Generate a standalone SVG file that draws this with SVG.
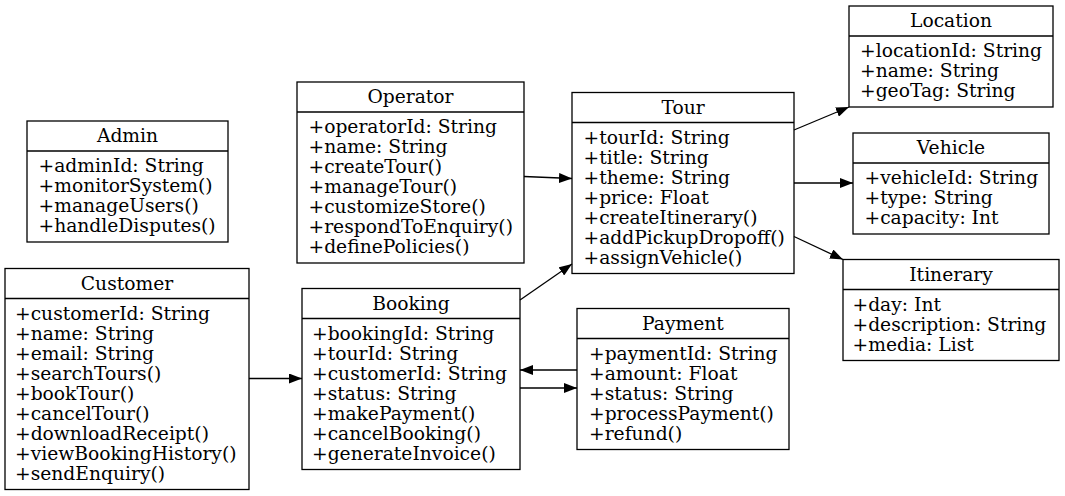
<svg xmlns="http://www.w3.org/2000/svg" width="1065" height="496" viewBox="0 0 1065 496">
<style>
.box{fill:#ffffff;stroke:#000000;stroke-width:1.3}
.div{stroke:#000000;stroke-width:1.3}
text{font-family:"DejaVu Serif",serif;font-size:18.7px;fill:#000000}
.t{text-anchor:middle}
.e{stroke:#000000;stroke-width:1.3;fill:none;marker-end:url(#arr)}
</style>
<defs>
<marker id="arr" markerUnits="userSpaceOnUse" markerWidth="14" markerHeight="10" refX="13" refY="5" orient="auto">
<path d="M0,0 L13,5 L0,10 Z" fill="#000000"/>
</marker>
</defs>
<rect width="1065" height="496" fill="#ffffff"/>

<g id="Admin">
<rect class="box" x="27" y="121" width="201" height="121"/>
<line class="div" x1="27" y1="151" x2="228" y2="151"/>
<text class="t" x="127.5" y="142">Admin</text>
<text x="38.5" y="172">+adminId: String</text>
<text x="38.5" y="192">+monitorSystem()</text>
<text x="38.5" y="212">+manageUsers()</text>
<text x="38.5" y="232">+handleDisputes()</text>
</g>

<g id="Customer">
<rect class="box" x="5" y="268.5" width="244" height="221"/>
<line class="div" x1="5" y1="298.5" x2="249" y2="298.5"/>
<text class="t" x="127" y="289.5">Customer</text>
<text x="15" y="319.5">+customerId: String</text>
<text x="15" y="339.5">+name: String</text>
<text x="15" y="359.5">+email: String</text>
<text x="15" y="379.5">+searchTours()</text>
<text x="15" y="399.5">+bookTour()</text>
<text x="15" y="419.5">+cancelTour()</text>
<text x="15" y="439.5">+downloadReceipt()</text>
<text x="15" y="459.5">+viewBookingHistory()</text>
<text x="15" y="479.5">+sendEnquiry()</text>
</g>

<g id="Operator">
<rect class="box" x="297" y="82" width="227" height="181"/>
<line class="div" x1="297" y1="112" x2="524" y2="112"/>
<text class="t" x="410.5" y="103">Operator</text>
<text x="308.5" y="133">+operatorId: String</text>
<text x="308.5" y="153">+name: String</text>
<text x="308.5" y="173">+createTour()</text>
<text x="308.5" y="193">+manageTour()</text>
<text x="308.5" y="213">+customizeStore()</text>
<text x="308.5" y="233">+respondToEnquiry()</text>
<text x="308.5" y="253">+definePolicies()</text>
</g>

<g id="Booking">
<rect class="box" x="302" y="288.5" width="218" height="181"/>
<line class="div" x1="302" y1="318.5" x2="520" y2="318.5"/>
<text class="t" x="411" y="309.5">Booking</text>
<text x="312" y="339.5">+bookingId: String</text>
<text x="312" y="359.5">+tourId: String</text>
<text x="312" y="379.5">+customerId: String</text>
<text x="312" y="399.5">+status: String</text>
<text x="312" y="419.5">+makePayment()</text>
<text x="312" y="439.5">+cancelBooking()</text>
<text x="312" y="459.5">+generateInvoice()</text>
</g>

<g id="Tour">
<rect class="box" x="572" y="92.5" width="222" height="181"/>
<line class="div" x1="572" y1="122.5" x2="794" y2="122.5"/>
<text class="t" x="683" y="113.5">Tour</text>
<text x="583.5" y="143.5">+tourId: String</text>
<text x="583.5" y="163.5">+title: String</text>
<text x="583.5" y="183.5">+theme: String</text>
<text x="583.5" y="203.5">+price: Float</text>
<text x="583.5" y="223.5">+createItinerary()</text>
<text x="583.5" y="243.5">+addPickupDropoff()</text>
<text x="583.5" y="263.5">+assignVehicle()</text>
</g>

<g id="Payment">
<rect class="box" x="577" y="308.5" width="212" height="141"/>
<line class="div" x1="577" y1="338.5" x2="789" y2="338.5"/>
<text class="t" x="683" y="329.5">Payment</text>
<text x="589" y="359.5">+paymentId: String</text>
<text x="589" y="379.5">+amount: Float</text>
<text x="589" y="399.5">+status: String</text>
<text x="589" y="419.5">+processPayment()</text>
<text x="589" y="439.5">+refund()</text>
</g>

<g id="Location">
<rect class="box" x="849" y="6" width="204" height="101"/>
<line class="div" x1="849" y1="36" x2="1053" y2="36"/>
<text class="t" x="951" y="27">Location</text>
<text x="860" y="57">+locationId: String</text>
<text x="860" y="77">+name: String</text>
<text x="860" y="97">+geoTag: String</text>
</g>

<g id="Vehicle">
<rect class="box" x="853" y="133" width="196" height="101"/>
<line class="div" x1="853" y1="163" x2="1049" y2="163"/>
<text class="t" x="951" y="154">Vehicle</text>
<text x="864.5" y="184">+vehicleId: String</text>
<text x="864.5" y="204">+type: String</text>
<text x="864.5" y="224">+capacity: Int</text>
</g>

<g id="Itinerary">
<rect class="box" x="843" y="259.5" width="216" height="101"/>
<line class="div" x1="843" y1="289.5" x2="1059" y2="289.5"/>
<text class="t" x="951" y="280.5">Itinerary</text>
<text x="852.5" y="310.5">+day: Int</text>
<text x="852.5" y="330.5">+description: String</text>
<text x="852.5" y="350.5">+media: List</text>
</g>

<g id="connectors">
<line class="e" x1="249" y1="378.5" x2="302" y2="378.5"/>
<line class="e" x1="524" y1="176.5" x2="572" y2="178.5"/>
<line class="e" x1="520" y1="300" x2="572" y2="264"/>
<line class="e" x1="577" y1="370" x2="520" y2="370"/>
<line class="e" x1="520" y1="388" x2="577" y2="388"/>
<line class="e" x1="794" y1="130" x2="849" y2="107"/>
<line class="e" x1="794" y1="183" x2="853" y2="183"/>
<line class="e" x1="794" y1="236.5" x2="843" y2="259.5"/>
</g>
</svg>
